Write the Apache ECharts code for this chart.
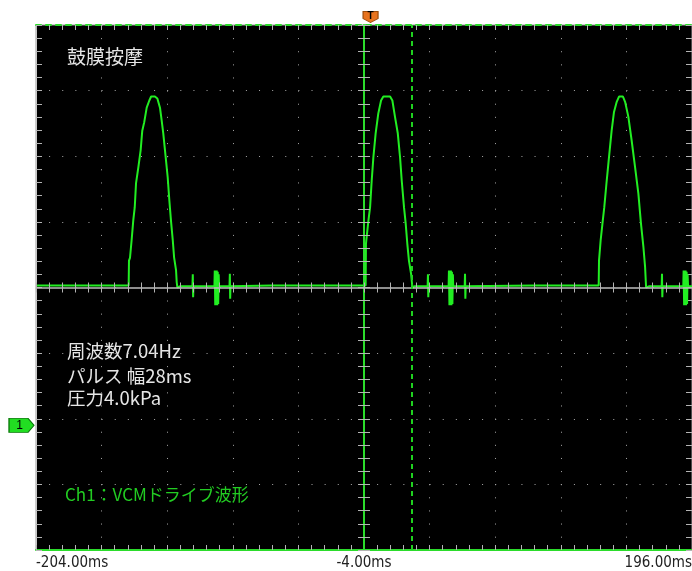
<!DOCTYPE html>
<html>
<head>
<meta charset="utf-8">
<title>鼓膜按摩</title>
<script src="https://cdn.jsdelivr.net/npm/echarts@6/dist/echarts.min.js"></script>
<style>
  html, body { margin: 0; padding: 0; background: #fff; overflow: hidden; }
  #chart { width: 692px; height: 571px; }
</style>
</head>
<body>
<div id="chart"></div>
<script>
// --- scope screen: 10 div x 40 ms, 8 div vertical ---
const X_LEFT_MS = -204;          // time at left edge of screen
const X_SPAN_MS = 400;
const xLabelTimes = [-204, -4, 196];
const cursorTime = 25.4;         // dashed cursor (ms)
const triggerTime = 0;           // T marker (ms)
const ch1Level = -2.1;           // channel 1 marker (div)

// trace: time (ms) / level (div)
const traceTime = [
  -204, -186, -185.6, -185.2, -166, -165.7, -165.4, -147.5,
  -147.3, -146.7, -145.7, -145.3, -144.7, -143.8, -143.0, -141.6, -140.2, -139.2, -138.0, -136.5,
  -134.9, -133.8, -131.5, -130.0, -128.4, -127.4, -126.4, -124.9, -123.7, -122.7, -121.7, -120.6,
  -119.8, -118.6, -118.2, -117.8,
  -116, -108.6, -108.4, -108.2, -108.0, -95.2, -95.0, -94.7, -94.4, -94.1, -93.8, -93.5, -93.2,
  -92.9, -92.6, -92.4, -86.0, -85.8, -85.6, -85.4, -60, -30, -3.0,
  -2.8, -1.4, -0.3, 0.7, 1.7, 3.1, 4.7, 6.4, 7.8, 11.9, 13.3, 14.9, 16.6, 18.0, 19.0, 20.4, 21.4,
  22.4, 23.4, 24.7, 25.5,
  27, 34.8, 35.0, 35.2, 35.4, 47.6, 47.8, 48.1, 48.4, 48.7, 49.0, 49.3, 49.6, 49.9, 50.2, 50.4,
  57.4, 57.6, 57.8, 58.0, 100, 139.1,
  139.3, 140.3, 141.6, 142.5, 144.0, 145.6, 147.0, 148.4, 150.1, 151.5, 153.9, 155.2, 157.2, 159.2,
  161.3, 163.3, 164.9, 166.4, 167.4, 168.0,
  170, 177.5, 177.7, 177.9, 178.1, 190.7, 190.9, 191.2, 191.5, 191.8, 192.1, 192.4, 192.7, 193.0,
  193.3, 193.6, 196
];
const traceLevel = [
  0.03, 0.03, 0.06, 0.03, 0.03, 0.05, 0.03, 0.03,
  0.41, 0.45, 0.72, 0.75, 1.02, 1.22, 1.59, 1.83, 2.09, 2.39, 2.52, 2.74,
  2.85, 2.91, 2.91, 2.88, 2.74, 2.55, 2.35, 1.98, 1.68, 1.33, 1.02, 0.72,
  0.46, 0.26, 0.08, 0.0,
  0.02, 0.02, 0.20, -0.15, 0.02, 0.02, 0.26, -0.27, 0.25, -0.26, 0.26, -0.27, 0.24,
  -0.25, 0.20, 0.02, 0.02, 0.21, -0.17, 0.02, 0.03, 0.03, 0.03,
  0.67, 1.0, 1.22, 1.63, 1.98, 2.35, 2.65, 2.85, 2.91, 2.91, 2.85, 2.6, 2.35, 1.98, 1.63, 1.22, 0.98,
  0.67, 0.41, 0.21, 0.0,
  0.02, 0.02, 0.20, -0.15, 0.02, 0.02, 0.26, -0.27, 0.25, -0.26, 0.26, -0.27, 0.24, -0.25, 0.20, 0.02,
  0.02, 0.21, -0.17, 0.02, 0.03, 0.03,
  0.41, 0.72, 1.02, 1.22, 1.63, 2.04, 2.39, 2.67, 2.83, 2.91, 2.91, 2.83, 2.6, 2.24,
  1.83, 1.43, 0.97, 0.61, 0.31, 0.0,
  0.02, 0.02, 0.21, -0.15, 0.02, 0.02, 0.26, -0.27, 0.25, -0.26, 0.26, -0.27, 0.24, -0.25,
  0.20, 0.02, 0.02
];

const infoLines = ['周波数7.04Hz', 'パルス 幅28ms', '圧力4.0kPa'];
const titleText = '鼓膜按摩';
const channelText = 'Ch1：VCMドライブ波形';

// --- colours ---
const C = {
  trace: '#22ee22',
  green: '#2bdc2b',
  grid: '#a8a8a8',
  tick: '#b4b4b4',
  text: '#e6e6e6',
  label: '#222'
};

const toScreen = t => t - X_LEFT_MS;
const traceData = traceTime.map((t, i) => [toScreen(t), traceLevel[i]]);

const dotted = [1, 12.12];
const tickStyle = { color: C.tick, width: 1 };
const jpFont = '"Noto Sans CJK JP"';

// axis helper for the edges / centre crosses
function xEdge(extra) {
  return Object.assign({
    type: 'value', min: 0, max: X_SPAN_MS, interval: 40,
    axisLabel: { show: false },
    splitLine: { show: false },
    axisTick: { show: true, inside: true, length: 5, lineStyle: tickStyle },
    minorTick: { show: true, splitNumber: 5, length: 5, lineStyle: tickStyle }
  }, extra);
}
function yEdge(extra) {
  return Object.assign({
    type: 'value', min: -4, max: 4, interval: 1,
    axisLabel: { show: false },
    splitLine: { show: false },
    axisTick: { show: true, inside: true, length: 6, lineStyle: tickStyle },
    minorTick: { show: true, splitNumber: 5, length: 6, lineStyle: tickStyle }
  }, extra);
}

const chart = echarts.init(document.getElementById('chart'));

const option = {
  animation: false,
  backgroundColor: '#fff',
  grid: {
    left: 36, top: 25, width: 656, height: 525,
    outerBoundsMode: 'none',
    show: true, backgroundColor: '#000', borderColor: '#9a9a9a', borderWidth: 1
  },
  xAxis: [
    // 0: bottom, carries data + labels + vertical dotted grid
    xEdge({
      position: 'bottom',
      axisLine: { show: true, onZero: false, lineStyle: { color: C.green, width: 2 } },
      splitLine: { show: true, lineStyle: { color: C.grid, width: 1, type: dotted } },
      axisLabel: {
        show: true, margin: 6, color: C.label, fontSize: 15,
        fontFamily: '"DejaVu Sans Condensed", "Liberation Sans Narrow", sans-serif',
        alignMinLabel: 'left', alignMaxLabel: 'right',
        formatter: v => {
          const t = Math.round(v + X_LEFT_MS);
          return xLabelTimes.includes(t) ? t.toFixed(2) + 'ms' : '';
        }
      }
    }),
    // 1: top edge
    xEdge({
      position: 'top',
      axisLine: { show: true, onZero: false, lineStyle: { color: C.green, width: 2, type: [5, 5] } }
    }),
    // 2,3: horizontal centre line, ticks up and down
    xEdge({
      z: 3,
      axisLine: { show: true, onZero: true, onZeroAxisIndex: 0, lineStyle: { color: '#bdbdbd', width: 1.5 } },
      axisTick: { show: true, inside: true, length: 5, lineStyle: tickStyle },
      minorTick: { show: true, splitNumber: 5, length: 5, lineStyle: tickStyle }
    }),
    xEdge({
      z: 3,
      axisLine: { show: false, onZero: true, onZeroAxisIndex: 0 },
      axisTick: { show: true, inside: false, length: 5, lineStyle: tickStyle },
      minorTick: { show: true, splitNumber: 5, length: 5, lineStyle: tickStyle }
    }),
    // 4: hidden, in divisions; gives the zero for the vertical centre line
    { type: 'value', min: -5, max: 5, show: false }
  ],
  yAxis: [
    yEdge({
      position: 'left',
      axisLine: { show: true, onZero: false, lineStyle: { color: '#c8c8c8', width: 1 } },
      splitLine: { show: true, lineStyle: { color: C.grid, width: 1, type: dotted } }
    }),
    yEdge({
      position: 'right',
      axisLine: { show: true, onZero: false, lineStyle: { color: '#c8c8c8', width: 1 } }
    }),
    // vertical centre line, ticks both sides
    yEdge({
      z: 3,
      axisLine: { show: true, onZero: true, onZeroAxisIndex: 4, lineStyle: { color: C.green, width: 2 } },
      axisTick: { show: true, inside: true, length: 6, lineStyle: tickStyle },
      minorTick: { show: true, splitNumber: 5, length: 6, lineStyle: tickStyle }
    }),
    yEdge({
      z: 3,
      axisLine: { show: false, onZero: true, onZeroAxisIndex: 4 },
      axisTick: { show: true, inside: false, length: 6, lineStyle: tickStyle },
      minorTick: { show: true, splitNumber: 5, length: 6, lineStyle: tickStyle }
    })
  ],
  graphic: [
    { type: 'text', left: 67, top: 47, style: { text: titleText, fill: C.text, font: '19px ' + jpFont } },
    { type: 'text', left: 67, top: 342, style: { text: infoLines[0], fill: C.text, font: '18.5px ' + jpFont } },
    { type: 'text', left: 67, top: 367, style: { text: infoLines[1], fill: C.text, font: '18.5px ' + jpFont } },
    { type: 'text', left: 67, top: 389, style: { text: infoLines[2], fill: C.text, font: '18.5px ' + jpFont } },
    { type: 'text', left: 65, top: 486, style: { text: channelText, fill: '#22cc22', font: '17px ' + jpFont } }
  ],
  series: [
    {
      type: 'line',
      xAxisIndex: 0,
      yAxisIndex: 0,
      data: traceData,
      showSymbol: false,
      symbol: 'none',
      lineStyle: { color: C.trace, width: 2 },
      z: 2,
      markLine: {
        silent: true,
        symbol: 'none',
        label: { show: false },
        lineStyle: { color: '#1fd21f', width: 2, type: [5, 4] },
        data: [{ xAxis: toScreen(cursorTime) }]
      },
      markPoint: {
        silent: true,
        data: [
          {
            coord: [toScreen(triggerTime), 4],
            symbol: 'path://M0,0H14V7L7,11L0,7Z',
            symbolSize: [15, 11],
            symbolOffset: [0, -8],
            itemStyle: { color: '#e8731e', borderColor: '#9a4a0a', borderWidth: 1 },
            label: { show: true, formatter: 'T', color: '#000', fontSize: 10, fontWeight: 'bold', offset: [0, -1] }
          },
          {
            coord: [0, ch1Level],
            symbol: 'path://M0,0H19L25,7L19,14H0Z',
            symbolSize: [25, 14],
            symbolOffset: [-14.5, 0],
            itemStyle: { color: '#22dd22', borderColor: '#0a7a0a', borderWidth: 1 },
            label: { show: true, formatter: '1', color: '#000', fontSize: 12, offset: [-2, 0] }
          }
        ]
      }
    }
  ]
};

chart.setOption(option);
</script>
</body>
</html>
